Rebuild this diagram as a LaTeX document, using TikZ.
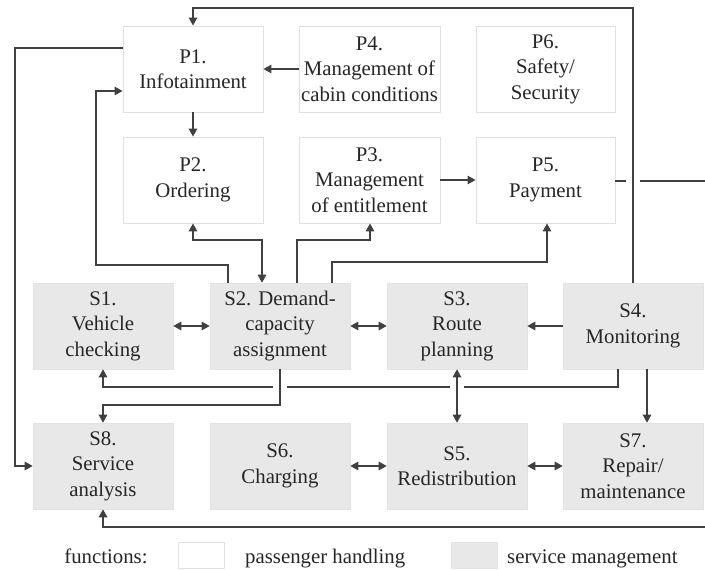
\documentclass[tikz,border=0pt]{standalone}
\usepackage{fontspec}
\setmainfont{Liberation Serif}
\usetikzlibrary{arrows.meta}
\begin{document}
\begin{tikzpicture}[x=1pt,y=-1pt,
 box/.style={minimum width=140pt, minimum height=86pt, inner sep=0pt, align=center,
   font=\fontsize{20.8}{25.5}\selectfont, text=black!85},
 pbox/.style={box, draw=black!12, fill=white, line width=0.9pt},
 sbox/.style={box, fill=black!9, draw=black!11, line width=0.6pt},
 conn/.style={draw=black!75, line width=1.3pt, >={Triangle[length=8pt,width=8.5pt]}},
 lab/.style={font=\fontsize{20.8}{25.5}\selectfont, text=black!85, inner sep=0pt}]
\useasboundingbox (0,0) rectangle (705,570);

% passenger handling boxes
\node[pbox] (P1) at (193,69)    {P1.\\Infotainment};
\node[pbox, minimum width=141pt] (P4) at (369.5,69) {P4.\\Management of\\cabin conditions};
\node[pbox, minimum width=139pt] (P6) at (545.5,69) {P6.\\Safety/\\Security};
\node[pbox] (P2) at (193,180)   {P2.\\Ordering};
\node[pbox, minimum width=141pt] (P3) at (369.5,180) {P3.\\Management\\of entitlement};
\node[pbox, minimum width=139pt] (P5) at (545.5,180) {P5.\\Payment};

% service management boxes
\node[sbox] (S1) at (103,326) {S1.\\Vehicle\\checking};
\node[sbox] (S2) at (280,326) {S2. Demand-\\capacity\\assignment};
\node[sbox] (S3) at (457,326) {S3.\\Route\\planning};
\node[sbox] (S4) at (633,326) {S4.\\Monitoring};
\node[sbox] (S8) at (103,466) {S8.\\Service\\analysis};
\node[sbox] (S6) at (280,466) {S6.\\Charging};
\node[sbox] (S5) at (457,466) {S5.\\Redistribution};
\node[sbox] (S7) at (633,466) {S7.\\Repair/\\maintenance};

\coordinate (Rt) at (705,181);
\coordinate (Rb) at (705,527);

% P5 to the right edge, bridged under the S4 line
\draw[conn] (P5.east |- Rt) -- (Rt);
\fill[white] (626,175) rectangle (640,187);

% S4 -> P1 over the top
\draw[conn,->] (S4.north) -- (633,8) -- (193,8) -- (P1.north);

% top rows
\draw[conn,->] (P4.west) -- (P1.east);
\draw[conn,->] (P1.south) -- (P2.north);
\draw[conn,->] (P3.east) -- (P5.west);

% P1 -> S8 along the left side
\draw[conn,->] (P1.west |- 0,48) -- (15,48) -- (15,466) -- (S8.west);

% S2 -> P1 loop
\draw[conn,->] (228,0 |- S2.north) -- (228,265) -- (96,265) -- (96,91) -- (P1.west |- 0,91);
% P2 <-> S2
\draw[conn,<->] (P2.south) -- (193,240) -- (262,240) -- (262,0 |- S2.north);
% S2 -> P3
\draw[conn,->] (297,0 |- S2.north) -- (297,240) -- (370,240) -- (370,0 |- P3.south);
% S2 -> P5
\draw[conn,->] (332,0 |- S2.north) -- (332,262) -- (547,262) -- (547,0 |- P5.south);

% service row
\draw[conn,<->] (S1.east) -- (S2.west);
\draw[conn,<->] (S2.east) -- (S3.west);
\draw[conn,->] (S4.west) -- (S3.east);
\draw[conn,<->] (S6.east) -- (S5.west);
\draw[conn,<->] (S5.east) -- (S7.west);

% S4 -> S1 (bridged)
\draw[conn,->] (618,0 |- S4.south) -- (618,387) -- (103,387) -- (S1.south);
\fill[white] (273,382) rectangle (287,392);
\fill[white] (450,382) rectangle (464,392);

% S2 -> S8
\draw[conn,->] (S2.south) -- (280,405) -- (103,405) -- (S8.north);
% S3 <-> S5
\draw[conn,<->] (S3.south) -- (S5.north);
% S4 -> S7
\draw[conn,->] (647,0 |- S4.south) -- (647,0 |- S7.north);

% bottom return line into S8
\draw[conn,->] (Rb) -- (103,527) -- (S8.south);

% legend
\node[lab, anchor=base] (lf) at (106,563) {functions:};
\node[pbox, minimum width=46pt, minimum height=26pt] (lp) at (201,555) {};
\node[lab, anchor=base west] (lpt) at (245,563) {passenger handling};
\node[sbox, minimum width=46pt, minimum height=26pt] (ls) at (474,555) {};
\node[lab, anchor=base west] (lst) at (507,563) {service management};
\end{tikzpicture}
\end{document}
